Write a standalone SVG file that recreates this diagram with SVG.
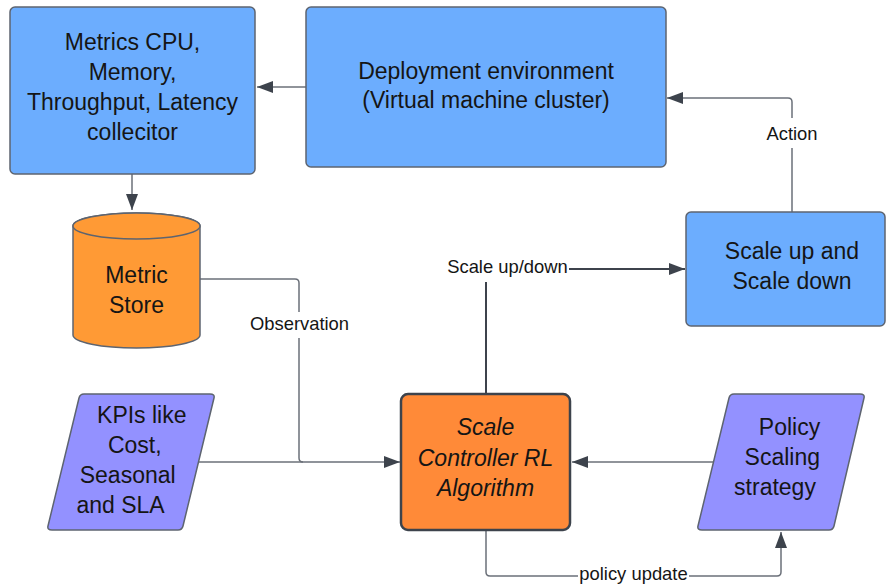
<svg xmlns="http://www.w3.org/2000/svg" width="886" height="586" viewBox="0 0 886 586">
  <defs>
    <style>
      .box { fill: #6cadfe; stroke: #5d6470; stroke-width: 1.5; }
      .store { fill: #ff9a35; stroke: #5d6470; stroke-width: 1.5; }
      .ctrl { fill: #ff8a38; stroke: #3d434c; stroke-width: 2.5; }
      .input { fill: #9391ff; stroke: #5d6470; stroke-width: 1.5; stroke-linejoin: round; }
      .t { font-family: "Liberation Sans", Arial, sans-serif; font-size: 23px; fill: #151515; text-anchor: middle; }
      .it { font-style: italic; }
      .lbl { font-family: "Liberation Sans", Arial, sans-serif; font-size: 18.4px; fill: #151515; text-anchor: middle; }
      .wire { fill: none; stroke: #6b7079; stroke-width: 1.5; }
      .wire-dark { fill: none; stroke: #3d434c; stroke-width: 2; }
      .bg { fill: #ffffff; }
    </style>
    <marker id="arrow" markerUnits="userSpaceOnUse" markerWidth="16" markerHeight="12" refX="16" refY="6" orient="auto">
      <path d="M0,0 L16,6 L0,12 z" fill="#3d434c"/>
    </marker>
  </defs>

  <rect width="886" height="586" fill="#ffffff"/>

  <!-- connectors -->
  <g id="connectors">
    <!-- deployment -> metrics collector -->
    <path class="wire" d="M306,87 L257,87" marker-end="url(#arrow)"/>
    <!-- metrics collector -> metric store -->
    <path class="wire" d="M132,174 L132,210" marker-end="url(#arrow)"/>
    <!-- metric store -> controller (observation) -->
    <path class="wire" d="M200,279 L295,279 Q299,279 299,283 L299,458 Q299,462 303,462 L400,462" marker-end="url(#arrow)"/>
    <!-- KPIs -> controller -->
    <path class="wire" d="M198,462 L303,462"/>
    <!-- policy -> controller -->
    <path class="wire" d="M714,462 L572,462" marker-end="url(#arrow)"/>
    <!-- controller -> policy (policy update) -->
    <path class="wire" d="M486,531 L486,572 Q486,576 490,576 L777,576 Q781,576 781,572 L781,532" marker-end="url(#arrow)"/>
    <!-- controller -> scale box -->
    <path class="wire-dark" d="M486,393 L486,269 L685,269" marker-end="url(#arrow)"/>
    <!-- scale box -> deployment (action) -->
    <path class="wire" d="M792,212 L792,102 Q792,98 788,98 L667,98" marker-end="url(#arrow)"/>

    <!-- connector labels -->
    <rect class="bg" x="246" y="312" width="106" height="26"/>
    <text class="lbl" x="299.5" y="330">Observation</text>
    <rect class="bg" x="764" y="118" width="56" height="30"/>
    <text class="lbl" x="792" y="140">Action</text>
    <rect class="bg" x="445" y="254" width="124" height="28"/>
    <text class="lbl" x="507.5" y="273">Scale up/down</text>
    <rect class="bg" x="578" y="565" width="111" height="21"/>
    <text class="lbl" x="633.5" y="580">policy update</text>
  </g>

  <!-- metrics collector -->
  <g id="metrics-collector">
    <rect class="box" x="10" y="7" width="245" height="167" rx="5"/>
    <text class="t" x="132.5" y="50">Metrics CPU,</text>
    <text class="t" x="132.5" y="80">Memory,</text>
    <text class="t" x="132.5" y="110">Throughput, Latency</text>
    <text class="t" x="132.5" y="140">collecitor</text>
  </g>

  <!-- deployment environment -->
  <g id="deployment">
    <rect class="box" x="306" y="7" width="360" height="160" rx="5"/>
    <text class="t" x="486" y="79">Deployment environment</text>
    <text class="t" x="486" y="108">(Virtual machine cluster)</text>
  </g>

  <!-- metric store -->
  <g id="metric-store">
    <path class="store" d="M73,226 L73,335 A63.5,13 0 0 0 200,335 L200,226 A63.5,13 0 0 0 73,226 z"/>
    <ellipse class="store" cx="136.5" cy="226" rx="63.5" ry="13"/>
    <text class="t" x="136.5" y="283">Metric</text>
    <text class="t" x="136.5" y="313">Store</text>
  </g>

  <!-- scale up / down -->
  <g id="scale-box">
    <rect class="box" x="686" y="212" width="199" height="114" rx="5"/>
    <text class="t" x="792" y="259">Scale up and</text>
    <text class="t" x="792" y="289">Scale down</text>
  </g>

  <!-- KPI input -->
  <g id="kpis">
    <path class="input" d="M84,394 L210,394 Q215,394 214,398 L183,526 Q182,530 178,530 L52,530 Q47,530 48,526 L79,398 Q80,394 84,394 z"/>
    <text class="t" x="141.8" y="423">KPIs like</text>
    <text class="t" x="134.8" y="453">Cost,</text>
    <text class="t" x="127.7" y="483">Seasonal</text>
    <text class="t" x="120.6" y="513">and SLA</text>
  </g>

  <!-- scale controller -->
  <g id="controller">
    <rect class="ctrl" x="401" y="394" width="169" height="136" rx="7"/>
    <text class="t it" x="485.5" y="435">Scale</text>
    <text class="t it" x="485.5" y="466">Controller RL</text>
    <text class="t it" x="485.5" y="496">Algorithm</text>
  </g>

  <!-- policy input -->
  <g id="policy">
    <path class="input" d="M734,394 L860,394 Q865,394 864,398 L834,526 Q833,530 829,530 L702,530 Q697,530 698,526 L729,398 Q730,394 734,394 z"/>
    <text class="t" x="789.5" y="435">Policy</text>
    <text class="t" x="782.3" y="465">Scaling</text>
    <text class="t" x="775" y="495">strategy</text>
  </g>
</svg>
